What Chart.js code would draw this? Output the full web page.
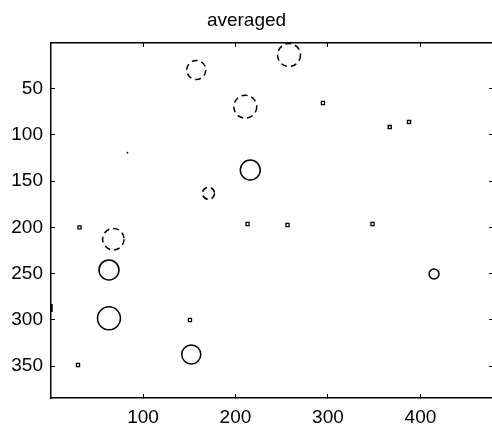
<!DOCTYPE html>
<html><head><meta charset="utf-8">
<script src="https://cdn.jsdelivr.net/npm/chart.js@4"></script>
<style>
html,body{margin:0;padding:0;background:#fff;overflow:hidden;width:492px;height:429px}
#wrap{position:absolute;left:0;top:0;width:500px;height:429px}
</style></head>
<body><div id="wrap"><canvas id="c" width="500" height="429"></canvas></div>
<script>
// ---- data (image coordinates, y grows downward) ----
const chartTitle = 'averaged';
const xRange = [0.5, 478.5];
const yRange = [0.5, 384.5];
const xTickValues = [100, 200, 300, 400];
const yTickValues = [50, 100, 150, 200, 250, 300, 350];

const dashedCircleX = [157.6, 257.9, 210.6, 170.8, 67.9];
const dashedCircleY = [29.7, 13.5, 69.4, 163.1, 212.7];
const dashedCircleR = [10.3, 12.4, 12.4, 6.5, 11.6];   // radius in image units

const solidCircleX = [216.0, 63.2, 63.2, 152.2, 414.7];
const solidCircleY = [137.9, 246.0, 298.3, 337.4, 250.4];
const solidCircleR = [10.8, 10.8, 12.4, 10.3, 5.4];

const speckX = [31.3, 213.0, 256.3, 348.2, 294.6, 366.8, 387.7, 150.8, 29.7];
const speckY = [199.9, 196.3, 197.4, 196.3, 65.4, 91.4, 85.9, 300.1, 348.8];

const dotX = [83.2];
const dotY = [119.2];

const edgeX = [1.0];
const edgeY = [287.1];

// ---- build chart ----
const FONT = "'Liberation Sans Narrow', 'Liberation Sans', Arial, sans-serif";
const pts = (xs, ys) => xs.map((x, i) => ({x: x, y: ys[i]}));
const unitPx = (chart) => {
  const s = chart.scales.x;
  return Math.abs(s.getPixelForValue(1) - s.getPixelForValue(0));
};

const dashPlugin = {
  id: 'dash',
  beforeDatasetDraw(chart, args) {
    const ds = chart.data.datasets[args.index];
    chart.ctx.save();
    if (ds.dash) chart.ctx.setLineDash(ds.dash);
  },
  afterDatasetDraw(chart) { chart.ctx.restore(); }
};

const setTicks = (vals) => (scale) => { scale.ticks = vals.map(v => ({value: v})); };
const gridOpts = {display: true, drawOnChartArea: false, drawTicks: true, tickLength: -4, color: '#000', lineWidth: 1};
const borderOpts = {display: true, color: '#000', width: 1.5};
const tickFont = {family: FONT, size: 19};

new Chart(document.getElementById('c'), {
  type: 'scatter',
  data: {
    datasets: [
      {data: pts(dashedCircleX, dashedCircleY), dash: [6, 4], pointStyle: 'circle',
       pointRadius: (c) => dashedCircleR[c.dataIndex] * unitPx(c.chart),
       pointBorderColor: '#000', pointBackgroundColor: 'rgba(0,0,0,0)', pointBorderWidth: 1.5,
       xAxisID: 'x', yAxisID: 'y'},
      {data: pts(solidCircleX, solidCircleY), pointStyle: 'circle',
       pointRadius: (c) => solidCircleR[c.dataIndex] * unitPx(c.chart),
       pointBorderColor: '#000', pointBackgroundColor: 'rgba(0,0,0,0)', pointBorderWidth: 1.5,
       xAxisID: 'x', yAxisID: 'y'},
      {data: pts(speckX, speckY), pointStyle: 'rect', pointRadius: 2.2,
       pointBorderColor: '#000', pointBackgroundColor: '#fff', pointBorderWidth: 1.3,
       xAxisID: 'x', yAxisID: 'y'},
      {data: pts(dotX, dotY), pointStyle: 'rect', pointRadius: 0.8,
       pointBorderColor: '#000', pointBackgroundColor: '#000', pointBorderWidth: 0.5,
       xAxisID: 'x', yAxisID: 'y'},
      {data: pts(edgeX, edgeY), pointStyle: 'line', rotation: 90, pointRadius: 4,
       pointBorderColor: '#000', pointBorderWidth: 2.5,
       xAxisID: 'x', yAxisID: 'y'}
    ]
  },
  options: {
    responsive: false,
    animation: false,
    devicePixelRatio: 1,
    layout: {padding: {left: 0, right: 7, top: 0, bottom: 0}},
    plugins: {
      legend: {display: false},
      tooltip: {enabled: false},
      title: {display: true, text: chartTitle, color: '#000',
              font: {family: FONT, size: 19, weight: 'normal', lineHeight: 1},
              padding: {top: 11, bottom: 13}}
    },
    scales: {
      x: {type: 'linear', position: 'bottom', min: xRange[0], max: xRange[1],
          afterBuildTicks: setTicks(xTickValues),
          afterFit: (s) => { s.height = 31; },
          grid: gridOpts, border: borderOpts,
          ticks: {color: '#000', font: tickFont, padding: 12, maxRotation: 0, autoSkip: false,
                  callback: (v) => String(v)}},
      x2: {type: 'linear', position: 'top', min: xRange[0], max: xRange[1],
           afterBuildTicks: setTicks(xTickValues),
           afterFit: (s) => { s.height = 0; },
           grid: gridOpts, border: borderOpts, ticks: {display: false}},
      y: {type: 'linear', position: 'left', reverse: true, min: yRange[0], max: yRange[1],
          afterBuildTicks: setTicks(yTickValues),
          afterFit: (s) => { s.width = 51; },
          grid: gridOpts, border: borderOpts,
          ticks: {color: '#000', font: tickFont, padding: 12, autoSkip: false,
                  callback: (v) => String(v)}},
      y2: {type: 'linear', position: 'right', reverse: true, min: yRange[0], max: yRange[1],
           afterBuildTicks: setTicks(yTickValues),
           afterFit: (s) => { s.width = 0; },
           grid: gridOpts, border: borderOpts, ticks: {display: false}}
    }
  },
  plugins: [dashPlugin]
});
</script>
</body></html>
